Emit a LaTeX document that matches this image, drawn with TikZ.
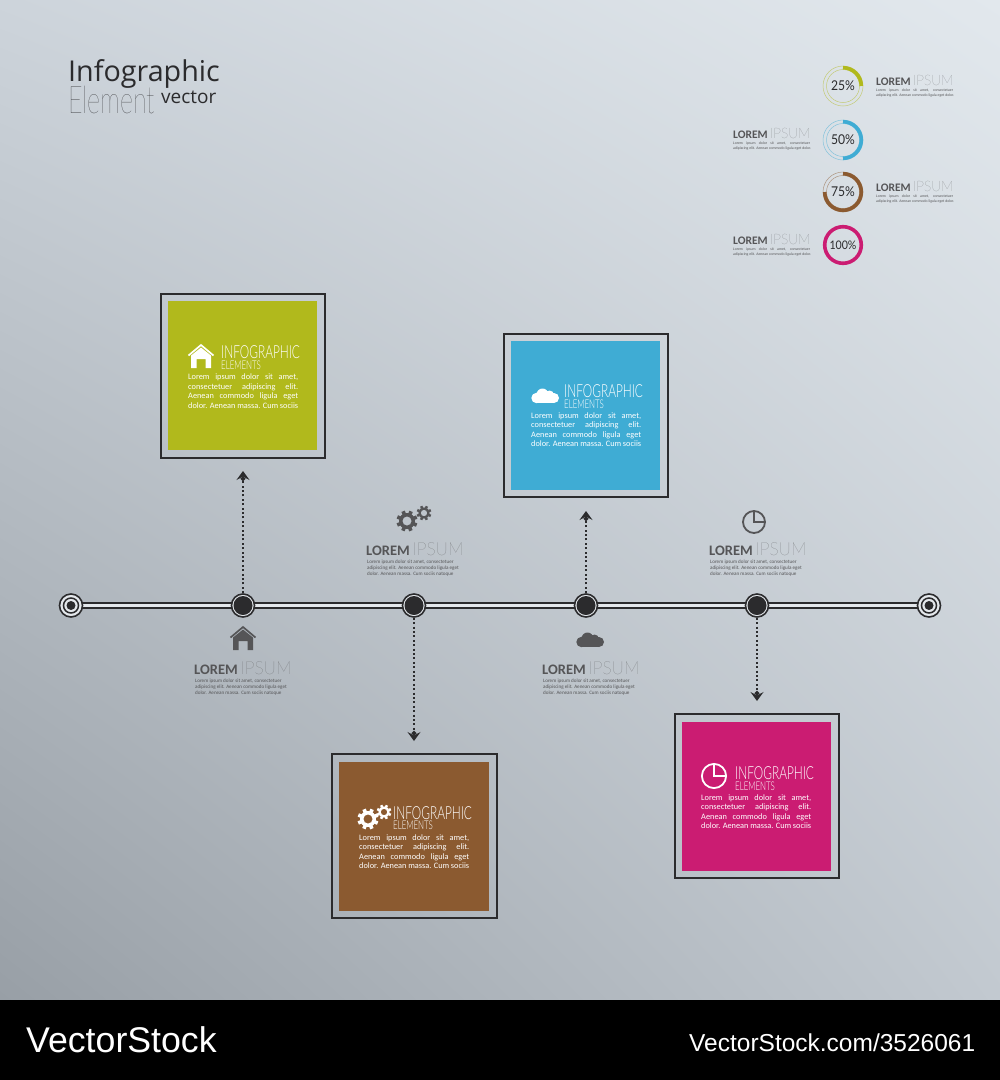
\documentclass[tikz,border=0pt]{standalone}
\usepackage{fontspec}
\usetikzlibrary{arrows.meta,shadings}
\setmainfont{Carlito}
\newfontfamily\titlefont{Open Sans}
\newfontfamily\thinfont[FakeStretch=0.66]{Lato Thin}
\newfontfamily\ipsumfont[Scale=1.25,FakeStretch=0.95]{Lato Hairline}
\newfontfamily\headfont[FakeStretch=0.66]{Lato Light}
\newfontfamily\pctfont[FakeStretch=0.9]{Lato}
\newfontfamily\markfont{Liberation Sans}
\definecolor{inkc}{HTML}{2B2B2D}
\definecolor{iconc}{HTML}{555557}
\definecolor{railc}{HTML}{E4E8EC}
\definecolor{bgtl}{HTML}{CDD4DB}
\definecolor{bgtr}{HTML}{E2E8ED}
\definecolor{bgbl}{HTML}{989FA6}
\definecolor{bgbr}{HTML}{C2C9D0}
\definecolor{greenc}{HTML}{B1B91C}
\definecolor{bluec}{HTML}{3FACD4}
\definecolor{brownc}{HTML}{8B5A30}
\definecolor{pinkc}{HTML}{CB1C72}
\newcommand{\fs}[1]{\fontsize{#1}{#1}\selectfont}
\newcommand{\jline}[1]{\makebox[110pt][s]{#1}}
\newcommand{\boxbody}{\jline{Lorem ipsum dolor sit amet,}\\[1.1pt]\jline{consectetuer adipiscing elit.}\\[1.1pt]\jline{Aenean commodo ligula eget}\\[1.1pt]\jline{dolor. Aenean massa. Cum sociis}}
\newcommand{\stepbody}{Lorem ipsum dolor sit amet, consectetuer\\[.9pt]adipiscing elit. Aenean commodo ligula eget\\[.9pt]dolor. Aenean massa. Cum sociis natoque}
\newcommand{\legbody}{\makebox[77pt][s]{Lorem ipsum dolor sit amet, consectetuer}\\[.7pt]adipiscing elit. Aenean commodo ligula eget dolor.}
\newcommand{\lorem}{{\bfseries LOREM}\hspace{.2em}{\ipsumfont\color{iconc}IPSUM}}
\tikzset{
  txt/.style={inner sep=0pt,anchor=base west},
  frame/.style={draw=inkc,line width=2pt},
  stop/.style={circle,draw=inkc,line width=1.6pt,fill=railc,minimum size=23pt,inner sep=0pt},
  stopin/.style={circle,draw=inkc,line width=1.5pt,minimum size=15pt,inner sep=0pt},
  ring/.style={circle,line width=.5pt,draw opacity=.55,minimum size=40pt,inner sep=0pt},
  ringin/.style={line width=.5pt,draw opacity=.55},
  bar/.style={line width=3.6pt},
  rail/.style={draw=inkc,line width=1.7pt,double=railc,double distance=3.2pt},
  dotline/.style={draw=inkc,line width=1.5pt,dash pattern=on 2pt off 2.4pt,-{Circle[length=4.5pt,sep=-3.5pt,fill=inkc]Stealth[length=9pt,width=13pt,inset=3.5pt,fill=inkc]}},
  heading/.style={txt,text=white,font=\headfont\fs{18}},
  subheading/.style={txt,text=white,font=\headfont\fs{12}},
  bodytxt/.style={txt,text=white,font=\fs{8.3},align=left},
  steptitle/.style={txt,text=iconc,font=\fs{14.5}},
  steptxt/.style={txt,text=iconc,font=\fs{5.1},align=left},
  legtitle/.style={txt,text=iconc,font=\fs{11.5}},
  legtxt/.style={txt,text=iconc,font=\fs{3.8},align=left},
  pct/.style={inner sep=0pt,text=inkc,font=\pctfont\fs{13.5}},
  house/.pic={
    \draw[pic actions,fill=none,line width=1.7pt] (-12.5,-0.5) -- (0,-11) -- (12.5,-0.5);
    \fill[pic actions] (-10,12) -- (-10,-0.5) -- (0,-8.5) -- (10,-0.5) -- (10,12) -- (4.5,12) -- (4.5,3) -- (-4.5,3) -- (-4.5,12) -- cycle;
  },
  gear/.pic={
    \fill[pic actions,even odd rule] (0,0) circle (8) circle (4.6);
    \foreach \a in {0,45,...,315}
      \fill[pic actions,rotate=\a+22] (-1.8,-10.5) rectangle (1.8,-7);
  },
  cloud/.pic={
    \fill[pic actions] (-8.5,2) circle (5.2) (-2.5,-1.5) circle (6) (4.5,-1) circle (4.5) (9,2) circle (5);
    \fill[pic actions] (-8.5,1) rectangle (9,7);
  },
  pie/.pic={
    \draw[pic actions,fill=none,line width=1.8pt] (0,0) circle (11) (0,-11) -- (0,0) -- (11,0);
  },
}
\begin{document}
\begin{tikzpicture}[x=1pt,y=-1pt]
\useasboundingbox (0,0) rectangle (1000,1080);
% background
\shade[upper left=bgtl,upper right=bgtr,lower left=bgbl,lower right=bgbr] (0,0) rectangle (1000,1000);
\fill[black] (0,1000) rectangle (1000,1080);
\node[txt,text=white,font=\markfont\fs{35.7}] (brand) at (26,1052) {VectorStock};
\node[txt,text=white,font=\markfont\fs{24.5}] (brandurl) at (689,1051) {VectorStock.com/3526061};
% title
\node[txt,text=inkc,font=\titlefont\fs{28.7}] (title) at (68,81) {Infographic};
\node[txt,text=inkc,font=\thinfont\fs{38}] (titletwo) at (68,113) {Element};
\node[txt,text=inkc,font=\titlefont\fs{19}] (titlethree) at (161,103) {vector};
% percent rings
\node[ring,draw=greenc] (ringa) at (843,86) {};
\node[ring,draw=bluec] (ringb) at (843,140) {};
\node[ring,draw=brownc] (ringc) at (843,192) {};
\draw[greenc,ringin] (ringa.center) circle (16.5);
\draw[bluec,ringin] (ringb.center) circle (16.5);
\draw[brownc,ringin] (ringc.center) circle (16.5);
\node[circle,draw=pinkc,bar,minimum size=36.6pt,inner sep=0pt] (ringd) at (843,245) {};
\draw[greenc,bar] (843,67.7) arc[start angle=-90,end angle=0,radius=18.3];
\draw[bluec,bar] (843,121.7) arc[start angle=-90,end angle=90,radius=18.3];
\draw[brownc,bar] (843,173.7) arc[start angle=-90,end angle=180,radius=18.3];
\node[pct] (pcta) at (843,86) {25\%};
\node[pct] (pctb) at (843,140) {50\%};
\node[pct] (pctc) at (843,192) {75\%};
\node[pct,font=\pctfont\fs{11.8}] (pctd) at (843,245) {100\%};
\node[legtitle] (lega) at (876,85) {\lorem};
\node[legtxt] (legatxt) at (876,96) {\legbody};
\node[legtitle] (legb) at (733,138) {\lorem};
\node[legtxt] (legbtxt) at (733,149) {\legbody};
\node[legtitle] (legc) at (876,191) {\lorem};
\node[legtxt] (legctxt) at (876,202) {\legbody};
\node[legtitle] (legd) at (733,244) {\lorem};
\node[legtxt] (legdtxt) at (733,255) {\legbody};
% tiles
\draw[frame] (161,294) rectangle (325,458);
\fill[greenc] (168,301) rectangle (317,450);
\draw[frame] (504,334) rectangle (668,497);
\fill[bluec] (511,341) rectangle (660,490);
\draw[frame] (332,754) rectangle (497,918);
\fill[brownc] (339,762) rectangle (489,911);
\draw[frame] (675,714) rectangle (839,878);
\fill[pinkc] (682,722) rectangle (831,871);
\pic[white] at (201,356) {house};
\node[heading] (heada) at (221,358) {INFOGRAPHIC};
\node[subheading] (suba) at (221,369.5) {ELEMENTS};
\node[bodytxt] (bodya) at (188,408) {\boxbody};
\pic[white] at (545,396) {cloud};
\node[heading] (headb) at (564,397) {INFOGRAPHIC};
\node[subheading] (subb) at (564,408.5) {ELEMENTS};
\node[bodytxt] (bodyb) at (531,446.5) {\boxbody};
\pic[white] at (368,819) {gear};
\pic[white,scale=.7] at (384,812) {gear};
\node[heading] (headc) at (393,819) {INFOGRAPHIC};
\node[subheading] (subc) at (393,829.5) {ELEMENTS};
\node[bodytxt] (bodyc) at (359,868.5) {\boxbody};
\pic[white,scale=1.1] at (714,776) {pie};
\node[heading] (headd) at (735,779) {INFOGRAPHIC};
\node[subheading] (subd) at (735,790.5) {ELEMENTS};
\node[bodytxt] (bodyd) at (701,828.5) {\boxbody};
% timeline
\coordinate (ends) at (71,605.5);
\coordinate (ende) at (929,605.5);
\draw[rail] (ends) -- (ende);
\node[stop] (starta) at (ends) {};
\node[stopin] (startb) at (ends) {};
\fill[inkc] (ends) circle (4.5);
\node[stop] (enda) at (ende) {};
\node[stopin] (endb) at (ende) {};
\fill[inkc] (ende) circle (4.5);
\node[stop] (stopa) at (243,605.5) {};
\node[stop] (stopb) at (414,605.5) {};
\node[stop] (stopc) at (586,605.5) {};
\node[stop] (stopd) at (757,605.5) {};
\coordinate (tipa) at (243,471);
\coordinate (tipb) at (414,741);
\coordinate (tipc) at (586,511);
\coordinate (tipd) at (757,701);
\draw[dotline] (stopa) -- (tipa);
\draw[dotline] (stopb) -- (tipb);
\draw[dotline] (stopc) -- (tipc);
\draw[dotline] (stopd) -- (tipd);
\fill[inkc] (stopa) circle (9.5);
\fill[inkc] (stopb) circle (9.5);
\fill[inkc] (stopc) circle (9.5);
\fill[inkc] (stopd) circle (9.5);
% step labels
\pic[iconc] at (243,638) {house};
\node[steptitle] (stepa) at (194,674) {\lorem};
\node[steptxt] (stepatxt) at (195,694.5) {\stepbody};
\pic[iconc] at (407,521) {gear};
\pic[iconc,scale=.7] at (424,513) {gear};
\node[steptitle] (stepb) at (366,555) {\lorem};
\node[steptxt] (stepbtxt) at (367,575) {\stepbody};
\pic[iconc] at (590,640) {cloud};
\node[steptitle] (stepc) at (542,674) {\lorem};
\node[steptxt] (stepctxt) at (543,694.5) {\stepbody};
\pic[iconc] at (754,522) {pie};
\node[steptitle] (stepd) at (709,555) {\lorem};
\node[steptxt] (stepdtxt) at (710,575) {\stepbody};
\end{tikzpicture}
\end{document}
